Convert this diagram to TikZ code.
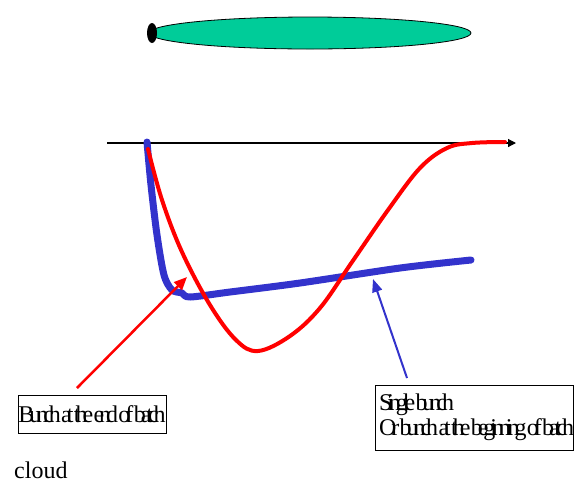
\documentclass[tikz,border=0pt]{standalone}
\usepackage{fontspec}
\setmainfont{Liberation Serif}
\newfontfamily\squeezed[LetterSpace=-21, WordSpace=0.4]{Liberation Serif}
\usepackage{tikz}
\usetikzlibrary{arrows.meta,shapes.geometric,positioning,calc}
\definecolor{beamgreen}{HTML}{00CC99}
\definecolor{bunchblue}{HTML}{3333CC}

\begin{document}
\begin{tikzpicture}[
            x=1pt, y=-1pt,
            box/.style={draw, thick, fill=white, font=\fontsize{24}{25}\squeezed, inner sep=0pt},
            redline/.style={red, line width=4pt, line cap=round, line join=round},
            blueline/.style={bunchblue, line width=7pt, line cap=round, line join=round}
        ]
\useasboundingbox (0,0) rectangle (577,483);

% beam
            \node[ellipse, draw, thick, fill=beamgreen, minimum width=322pt, minimum height=32pt, inner sep=0pt] (beam) at (310,33) {};
            \node[ellipse, fill=black, minimum width=10pt, minimum height=20pt, inner sep=0pt] (head) at (152,33) {};

% axis
            \coordinate (origin) at (107,143);
            \coordinate (tend) at (516,143);
            \draw[line width=1.2pt, -{Triangle[length=8pt,width=8pt]}] (origin) -- (tend);

% curves
            \draw[blueline] plot[smooth, tension=0.5] coordinates {(147,142) (151,185) (157,235) (164,275) (172,290) (182,293) (190,297) (230,292) (300,283) (400,268) (471,260)};
            \draw[redline] plot[smooth, tension=0.6] coordinates {(148,149) (162,200) (182,252) (210,305) (236,340) (258,351) (290,336) (320,308) (352,262) (388,210) (420,168) (447,148) (472,143) (505,142)};

% labels
            \node[box, minimum width=148pt, minimum height=38pt] (endbox) at (92,414) {Bunch at the end of batch};
            \node[box, text width=190pt, inner xsep=4pt, minimum height=65pt, align=flush left] (startbox) at (474,417.5) {\mbox{Single bunch}\\\mbox{Or bunch at the beginning of batch}};
            \node[font=\fontsize{24}{25}\selectfont, anchor=base west, inner sep=0pt] (cloud) at (14,478) {cloud};

% arrows
            \coordinate (redtail) at (77,388);
            \coordinate (redtip) at (187,277);
            \coordinate (bluetail) at (407,378);
            \coordinate (bluetip) at (373,279);
            \draw[red, line width=2.5pt, -{Triangle[length=13pt,width=11pt]}] (redtail) -- (redtip);
            \draw[bunchblue, line width=2pt, -{Triangle[length=13pt,width=10pt]}] (bluetail) -- (bluetip);

        \end{tikzpicture}
\end{document}
